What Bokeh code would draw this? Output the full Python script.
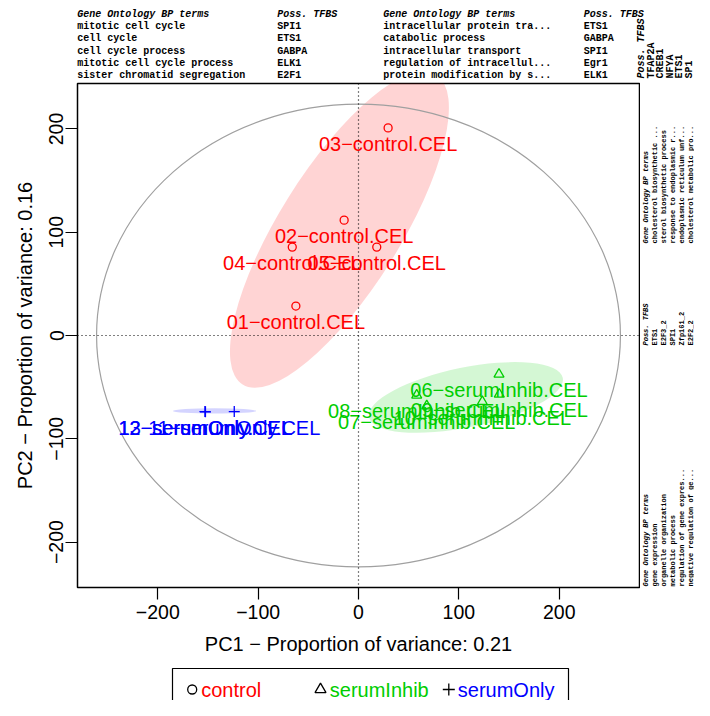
import numpy as np
from bokeh.plotting import figure
from bokeh.layouts import column, row
from bokeh.models import Range1d, FixedTicker, Span, ColumnDataSource
from bokeh.core.properties import value
from bokeh.embed import file_html
from bokeh.resources import INLINE

# ---------------- data ----------------
samples = ["01-control.CEL", "02-control.CEL", "03-control.CEL", "04-control.CEL", "05-control.CEL",
           "06-serumInhib.CEL", "07-serumInhib.CEL", "08-serumInhib.CEL", "09-serumInhib.CEL", "10-serumInhib.CEL",
           "11-serumOnly.CEL", "12-serumOnly.CEL", "13-serumOnly.CEL"]
groups = ["control", "control", "control", "control", "control",
          "serumInhib", "serumInhib", "serumInhib", "serumInhib", "serumInhib",
          "serumOnly", "serumOnly", "serumOnly"]
pc1 = [-62.4, -14.3, 29.5, -66.0, 18.2, 140.0, 68.0, 58.0, 140.3, 123.4, -123.8, -153.0, -152.5]
pc2 = [28.5, 111.7, 201.0, 85.6, 85.6, -37.5, -68.2, -57.8, -56.9, -64.0, -73.7, -73.7, -73.9]

group_names = ["control", "serumInhib", "serumOnly"]
group_colors = ["#FF0000", "#00CD00", "#0000FF"]
group_markers = ["circle", "triangle", "cross"]

# group ellipses (centre, full width/height, angle in degrees)
ell_x = [-19.0, 107.0, -143.5]
ell_y = [102.5, -60.0, -73.0]
ell_w = [364.0, 197.0, 83.0]
ell_h = [117.0, 58.0, 5.0]
ell_angle = [58.0, 11.5, 0.0]

# reference circle
circ_w, circ_h = 522.0, 448.0

x_ticks = [-200, -100, 0, 100, 200]
y_ticks = [-200, -100, 0, 100, 200]
x_label = "PC1 \u2212 Proportion of variance: 0.21"
y_label = "PC2 \u2212 Proportion of variance: 0.16"

# GO / TFBS tables
top_left_terms = ["mitotic cell cycle", "cell cycle", "cell cycle process",
                  "mitotic cell cycle process", "sister chromatid segregation"]
top_left_tfbs = ["SPI1", "ETS1", "GABPA", "ELK1", "E2F1"]
top_right_terms = ["intracellular protein tra...", "catabolic process", "intracellular transport",
                   "regulation of intracellul...", "protein modification by s..."]
top_right_tfbs = ["ETS1", "GABPA", "SPI1", "Egr1", "ELK1"]
side_top_terms = ["cholesterol biosynthetic ...", "sterol biosynthetic process",
                  "response to endoplasmic r...", "endoplasmic reticulum unf...",
                  "cholesterol metabolic pro..."]
side_top_tfbs = ["TFAP2A", "CREB1", "NFYA", "ETS1", "SP1"]
side_bottom_terms = ["gene expression", "organelle organization", "metabolic process",
                     "regulation of gene expres...", "negative regulation of ge..."]
side_bottom_tfbs = ["ETS1", "E2F3_2", "SPI1", "Zfp161_2", "E2F2_2"]
go_header = "Gene Ontology BP terms"
tfbs_header = "Poss. TFBS"

MONO = value("Liberation Mono")
SANS = value("Liberation Sans")


def pixfig(w, h, x0, y0, y_lo=None, y_hi=None):
    """A figure whose data space is page pixels (y negated), used for the text panels."""
    yr = Range1d(-(y0 + h), -y0) if y_lo is None else Range1d(-y_hi, -y_lo)
    f = figure(width=w, height=h, x_range=Range1d(x0, x0 + w), y_range=yr,
               output_backend="svg", toolbar_location=None, title=None,
               x_axis_location=None, y_axis_location=None, min_border=0)
    f.outline_line_color = None
    f.grid.visible = False
    return f


def table_text(f, xs, ys, texts, size, style, angle=0.0):
    f.text(x=xs, y=[-y for y in ys], text=texts, angle=angle, text_font=MONO,
           text_font_size=size, text_font_style=style, text_align="left",
           text_baseline="middle", text_color="black")


# ---------------- main plot ----------------
M_TOP, M_H, M_W = 82, 577, 640
B_TOP, B_BOT = 1, 72
p = figure(width=M_W, height=M_H, x_range=Range1d(-280, 280), y_range=Range1d(-244, 244),
           output_backend="svg", toolbar_location=None, title=None,
           min_border_left=77, min_border_right=1, min_border_top=B_TOP, min_border_bottom=B_BOT)
p.grid.visible = False
p.outline_line_color = "black"
p.outline_line_width = 1.5

for ax, ticks, lab in ((p.xaxis, x_ticks, x_label), (p.yaxis, y_ticks, y_label)):
    ax.ticker = FixedTicker(ticks=ticks)
    ax.major_label_overrides = {t: str(t).replace("-", "\u2212") for t in ticks}
    ax.axis_line_color = None
    ax.major_tick_in = 0
    ax.major_tick_out = 12
    ax.major_tick_line_width = 1.2
    ax.minor_tick_line_color = None
    ax.major_label_text_font = "Liberation Sans"
    ax.major_label_text_font_size = "19.5px"
    ax.major_label_text_color = "black"
    ax.axis_label = lab
    ax.axis_label_text_font = "Liberation Sans"
    ax.axis_label_text_font_size = "20px"
    ax.axis_label_text_font_style = "normal"
    ax.axis_label_text_color = "black"
p.xaxis.major_label_standoff = 5
p.xaxis.axis_label_standoff = 11
p.yaxis.major_label_standoff = 2
p.yaxis.axis_label_standoff = 11
p.yaxis.major_label_orientation = "vertical"

for i, col in enumerate(group_colors):
    p.ellipse(x=[ell_x[i]], y=[ell_y[i]], width=[ell_w[i]], height=[ell_h[i]],
              angle=[np.deg2rad(ell_angle[i])], fill_color=col, fill_alpha=0.17, line_color=None)

p.ellipse(x=[0], y=[0], width=[circ_w], height=[circ_h], fill_color=None,
          line_color="#A0A0A0", line_width=1.2)

p.add_layout(Span(location=0, dimension="height", line_color="black", line_dash="1 3", line_width=1.2))
p.add_layout(Span(location=0, dimension="width", line_color="black", line_dash="1 3", line_width=1.2))

sizes = {"circle": 8, "triangle": 10, "cross": 11}
for g, col, mk in zip(group_names, group_colors, group_markers):
    idx = [i for i, gg in enumerate(groups) if gg == g]
    src = ColumnDataSource(dict(x=[pc1[i] for i in idx], y=[pc2[i] for i in idx],
                                t=[samples[i].replace("-", "\u2212") for i in idx]))
    p.scatter(x="x", y="y", source=src, marker=mk, size=sizes[mk], line_color=col,
              fill_color=None, line_width=1.3)
    p.text(x="x", y="y", text="t", source=src, y_offset=16, text_align="center",
           text_baseline="middle", text_color=col, text_font=SANS, text_font_size="20px")

# ---------------- top table panel ----------------
top = pixfig(694, M_TOP, 0, 0)
row_y = [14 + 12.2 * i for i in range(6)]
for col_x, head, items in ((76.7, go_header, top_left_terms), (276.7, tfbs_header, top_left_tfbs),
                           (382.7, go_header, top_right_terms), (583.3, tfbs_header, top_right_tfbs)):
    table_text(top, [col_x], [row_y[0]], [head], "10px", "bold italic")
    table_text(top, [col_x] * len(items), row_y[1:], items, "10px", "bold")

corner_x = [641.0 + 9.5 * i for i in range(6)]
table_text(top, [corner_x[0]], [78], [tfbs_header], "10px", "bold italic", angle=np.pi / 2)
table_text(top, corner_x[1:], [78] * 5, side_top_tfbs, "10px", "bold", angle=np.pi / 2)

# ---------------- right side panel (its frame is aligned with the main frame) ----------------
side = pixfig(694 - M_W, M_H, M_W, M_TOP,
              y_lo=M_TOP + B_TOP, y_hi=M_TOP + M_H - B_BOT)
side_x = [645.5 + 9.0 * i for i in range(6)]
for start_y, head, items in ((243, go_header, side_top_terms),
                             (345, tfbs_header, side_bottom_tfbs),
                             (586, go_header, side_bottom_terms)):
    table_text(side, [side_x[0]], [start_y], [head], "7px", "bold italic", angle=np.pi / 2)
    table_text(side, side_x[1:], [start_y] * 5, items, "7px", "bold", angle=np.pi / 2)

# ---------------- legend panel ----------------
L_TOP = M_TOP + M_H
leg = pixfig(694, 700 - L_TOP, 0, L_TOP)
leg.quad(left=[172], right=[568], top=[-668], bottom=[-760], fill_color=None,
         line_color="black", line_width=1.2)
leg_glyph_x = [191.7, 320.0, 448.3]
leg_text_x = [200.7, 329.3, 457.3]
LEG_Y = -689
for g, col, mk, gx, tx in zip(group_names, group_colors, group_markers, leg_glyph_x, leg_text_x):
    leg.scatter(x=[gx], y=[LEG_Y], marker=mk, size=sizes[mk] + 1, line_color="black",
                fill_color=None, line_width=1.3)
    leg.text(x=[tx], y=[LEG_Y], text=[g], text_align="left", text_baseline="middle",
             text_color=col, text_font=SANS, text_font_size="20px")

layout = column(top, row(p, side), leg)
open("out.html", "w").write(file_html(layout, INLINE))
